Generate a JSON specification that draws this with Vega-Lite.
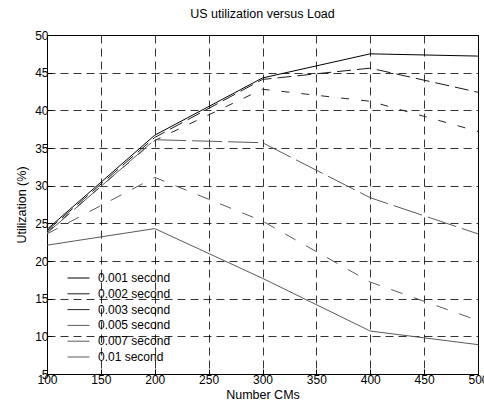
{
  "$schema": "https://vega.github.io/schema/vega-lite/v6.json",
  "width": 431,
  "height": 339,
  "autosize": {"type": "none"},
  "padding": {"left": 47, "top": 35, "right": 6, "bottom": 33},
  "background": "white",
  "config": {
    "font": "Liberation Sans",
    "view": {"stroke": "black", "strokeWidth": 1},
    "axis": {
      "labelFont": "Liberation Sans",
      "titleFont": "Liberation Sans",
      "labelFontSize": 12,
      "titleFontSize": 12.5,
      "titleFontWeight": "normal",
      "labelColor": "black",
      "titleColor": "black",
      "domain": false,
      "tickColor": "black",
      "tickSize": -5,
      "grid": true,
      "gridColor": "black",
      "gridOpacity": 1,
      "gridDash": [8, 5],
      "gridWidth": 0.8
    },
    "title": {"font": "Liberation Sans", "fontSize": 12.5, "fontWeight": "normal", "color": "black"}
  },
  "title": {"text": "US utilization versus Load", "anchor": "middle", "offset": 9},
  "data": {
    "values": [
      {"delay": "0.001 second", "cms": 100, "util": 24.2},
      {"delay": "0.001 second", "cms": 200, "util": 36.7},
      {"delay": "0.001 second", "cms": 300, "util": 44.3},
      {"delay": "0.001 second", "cms": 400, "util": 47.5},
      {"delay": "0.001 second", "cms": 500, "util": 47.2},
      {"delay": "0.002 second", "cms": 100, "util": 24.0},
      {"delay": "0.002 second", "cms": 200, "util": 36.4},
      {"delay": "0.002 second", "cms": 300, "util": 44.1},
      {"delay": "0.002 second", "cms": 400, "util": 45.6},
      {"delay": "0.002 second", "cms": 500, "util": 42.4},
      {"delay": "0.003 second", "cms": 100, "util": 23.8},
      {"delay": "0.003 second", "cms": 200, "util": 36.0},
      {"delay": "0.003 second", "cms": 300, "util": 42.8},
      {"delay": "0.003 second", "cms": 400, "util": 41.2},
      {"delay": "0.003 second", "cms": 500, "util": 37.2},
      {"delay": "0.005 second", "cms": 100, "util": 23.7},
      {"delay": "0.005 second", "cms": 200, "util": 36.1},
      {"delay": "0.005 second", "cms": 300, "util": 35.7},
      {"delay": "0.005 second", "cms": 400, "util": 28.4},
      {"delay": "0.005 second", "cms": 500, "util": 23.6},
      {"delay": "0.007 second", "cms": 100, "util": 23.6},
      {"delay": "0.007 second", "cms": 200, "util": 31.1},
      {"delay": "0.007 second", "cms": 300, "util": 25.3},
      {"delay": "0.007 second", "cms": 400, "util": 17.2},
      {"delay": "0.007 second", "cms": 500, "util": 12.1},
      {"delay": "0.01 second", "cms": 100, "util": 22.1},
      {"delay": "0.01 second", "cms": 200, "util": 24.3},
      {"delay": "0.01 second", "cms": 300, "util": 17.7},
      {"delay": "0.01 second", "cms": 400, "util": 10.7},
      {"delay": "0.01 second", "cms": 500, "util": 8.9}
    ]
  },
  "encoding": {
    "x": {
      "field": "cms", "type": "quantitative", "title": "Number CMs",
      "scale": {"domain": [100, 500], "nice": false, "zero": false},
      "axis": {"values": [100, 150, 200, 250, 300, 350, 400, 450, 500], "labelPadding": 5, "titlePadding": 3, "labelFlush": false}
    },
    "y": {
      "field": "util", "type": "quantitative", "title": "Utilization (%)",
      "scale": {"domain": [5, 50], "nice": false, "zero": false},
      "axis": {"values": [5, 10, 15, 20, 25, 30, 35, 40, 45, 50], "labelPadding": 4, "titlePadding": 6}
    },
    "color": {
      "field": "delay", "type": "nominal",
      "scale": {
        "domain": ["0.001 second", "0.002 second", "0.003 second", "0.005 second", "0.007 second", "0.01 second"],
        "range": ["#000000", "#1a1a1a", "#262626", "#5a5a5a", "#5a5a5a", "#5a5a5a"]
      },
      "legend": {
        "title": null,
        "orient": "none",
        "legendX": 25.5,
        "legendY": 237,
        "symbolType": "M-2,0H2",
        "symbolSize": 121,
        "symbolStrokeWidth": 1,
        "labelFontSize": 12,
        "labelColor": "black",
        "labelOffset": 13.5,
        "rowPadding": 3.8,
        "padding": 0,
        "labelLimit": 0
      }
    }
  },
  "layer": [
    {
      "transform": [{"filter": {"field": "delay", "equal": "0.001 second"}}],
      "mark": {"type": "line", "strokeWidth": 1}
    },
    {
      "transform": [{"filter": {"field": "delay", "equal": "0.002 second"}}],
      "mark": {"type": "line", "strokeWidth": 1, "strokeDash": [14, 6]}
    },
    {
      "transform": [{"filter": {"field": "delay", "equal": "0.003 second"}}],
      "mark": {"type": "line", "strokeWidth": 1, "strokeDash": [8, 12]}
    },
    {
      "transform": [{"filter": {"field": "delay", "equal": "0.005 second"}}],
      "mark": {"type": "line", "strokeWidth": 1, "strokeDash": [30, 6]}
    },
    {
      "transform": [{"filter": {"field": "delay", "equal": "0.007 second"}}],
      "mark": {"type": "line", "strokeWidth": 1, "strokeDash": [12, 12]}
    },
    {
      "transform": [{"filter": {"field": "delay", "equal": "0.01 second"}}],
      "mark": {"type": "line", "strokeWidth": 1}
    }
  ]
}
